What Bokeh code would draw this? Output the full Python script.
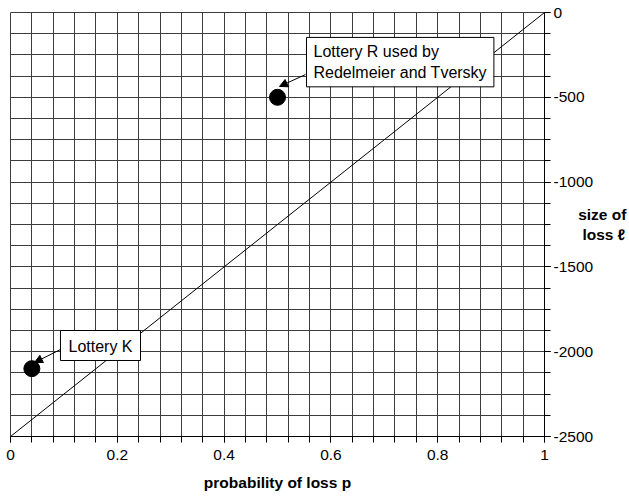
from bokeh.plotting import figure
from bokeh.models import FixedTicker, Label, Arrow, NormalHead, ColumnDataSource
from bokeh.embed import file_html
from bokeh.resources import INLINE

# data
line_p = [0.0, 1.0]
line_loss = [-2500, 0]
lottery_names = ["Lottery R", "Lottery K"]
lottery_p = [0.5, 0.04]
lottery_loss = [-500, -2100]
x_major = [0, 0.2, 0.4, 0.6, 0.8, 1]
x_labels = ["0", "0.2", "0.4", "0.6", "0.8", "1"]
x_minor = [round(i * 0.04, 2) for i in range(26)]
y_major = [0, -500, -1000, -1500, -2000, -2500]
y_labels = ["0", "-500", "-1000", "-1500", "-2000", "-2500"]
y_minor = [-125 * i for i in range(21)]

FONT = "Liberation Sans"
GRID = "#3c3c3c"

p = figure(frame_width=534, frame_height=424, x_range=(0, 1), y_range=(-2500, 0),
           y_axis_location="right", output_backend="svg", toolbar_location=None,
           min_border_left=10, min_border_top=12, min_border_right=85, min_border_bottom=62)
p.background_fill_color = "white"
p.border_fill_color = "white"
p.outline_line_color = GRID

p.xaxis.ticker = FixedTicker(ticks=x_major, minor_ticks=x_minor)
p.yaxis.ticker = FixedTicker(ticks=y_major, minor_ticks=y_minor)
p.xgrid.ticker = FixedTicker(ticks=x_minor)
p.ygrid.ticker = FixedTicker(ticks=y_minor)
for g in (p.xgrid, p.ygrid):
    g.grid_line_color = GRID
    g.grid_line_width = 1

for ax in (p.xaxis, p.yaxis):
    ax.axis_line_color = "black"
    ax.major_tick_line_color = "black"
    ax.minor_tick_line_color = "black"
    ax.major_tick_in = 0
    ax.minor_tick_in = 0
    ax.major_tick_out = 6
    ax.minor_tick_out = 6
    ax.major_label_text_font = FONT
    ax.major_label_text_font_size = "15.5px"
    ax.major_label_text_color = "black"
    ax.axis_label_text_font = FONT
    ax.axis_label_text_font_size = "15.5px"
    ax.axis_label_text_font_style = "bold"
    ax.axis_label_text_color = "black"
p.xaxis.major_label_standoff = 7
p.yaxis.major_label_standoff = 3
p.xaxis.major_label_overrides = dict(zip(x_major, x_labels))
p.yaxis.major_label_overrides = dict(zip(y_major, y_labels))

p.xaxis.axis_label = "probability of loss p"
p.xaxis.axis_label_standoff = 11
p.yaxis.axis_label = "size of\n\u00a0loss ℓ"
p.yaxis.axis_label_orientation = "horizontal"
p.yaxis.axis_label_text_align = "center"
p.yaxis.axis_label_standoff = -18

p.line(line_p, line_loss, line_color="black", line_width=1)
src = ColumnDataSource(dict(p=lottery_p, loss=lottery_loss, name=lottery_names))
p.scatter("p", "loss", source=src, size=16, fill_color="black", line_color="black")

# annotation boxes
box_style = dict(text_font=FONT, text_font_size="16px", text_color="black",
                 text_align="left", text_baseline="top",
                 background_fill_color="white", border_line_color="black",
                 border_line_width=1)
p.add_layout(Label(x=0.5543, y=-147, text="Lottery R used by\nRedelmeier and Tversky",
                   padding=dict(left=7, right=7, top=6, bottom=6), **box_style))
p.add_layout(Label(x=0.0936, y=-1875, text="Lottery K",
                   padding=dict(left=8, right=8, top=7, bottom=6), **box_style))

head = dict(size=8, fill_color="black", line_color="black")
p.add_layout(Arrow(end=NormalHead(**head), x_start=0.5524, y_start=-366,
                   x_end=0.5037, y_end=-436, line_width=1))
p.add_layout(Arrow(end=NormalHead(**head), x_start=0.0936, y_start=-1987,
                   x_end=0.0449, y_end=-2064, line_width=1))

open("out.html", "w").write(file_html(p, INLINE))
